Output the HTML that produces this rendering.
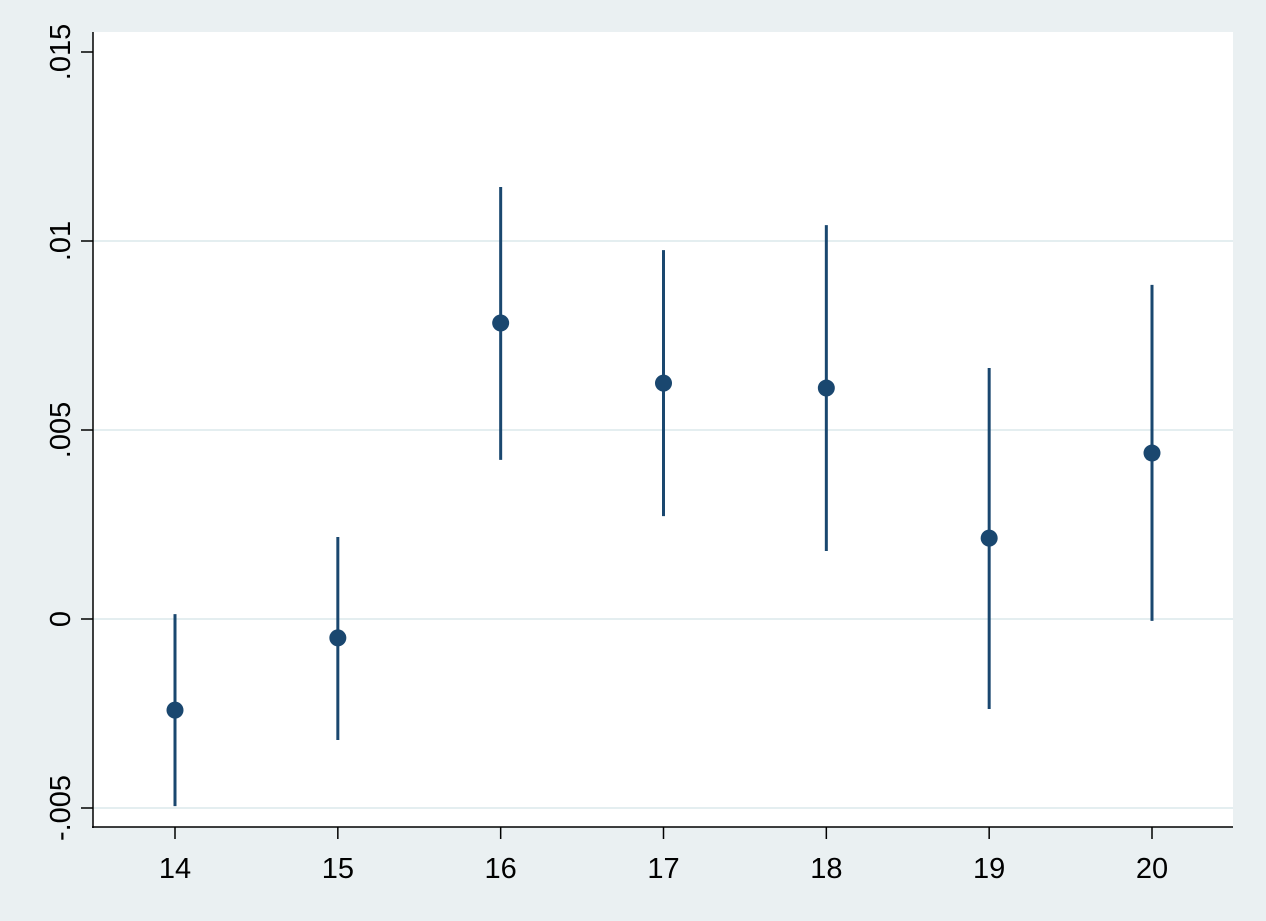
<!DOCTYPE html>
<html><head><meta charset="utf-8"><style>
html,body{margin:0;padding:0;background:#eaf0f2;}
svg{display:block;font-family:"Liberation Sans",Arial,sans-serif;}
</style></head><body>
<svg id="chart" width="1266" height="921" viewBox="0 0 1266 921">
<rect x="0" y="0" width="1266" height="921" fill="#eaf0f2"/>
<rect x="93" y="32" width="1140" height="795" fill="#ffffff"/>
<g id="grid"></g><g id="marks"></g><g id="axes"></g>
</svg>
<script>
const categories = [14, 15, 16, 17, 18, 19, 20];
const estimates = [-0.00241, -0.0005, 0.00783, 0.00624, 0.00611, 0.00214, 0.00439];
const ciLower = [-0.00495, -0.0032, 0.00421, 0.00272, 0.0018, -0.00238, -0.00005];
const ciUpper = [0.00013, 0.00217, 0.01143, 0.00976, 0.01042, 0.00664, 0.00884];
const yTicks = [-0.005, 0, 0.005, 0.01, 0.015];
const yTickLabels = ["-.005", "0", ".005", ".01", ".015"];

const NS = "http://www.w3.org/2000/svg";
function xScale(v){ return 175 + (v - 14) * (1152 - 175) / 6; }
function yScale(v){ return 619 - v * (189 / 0.005); }
function mk(tag, attrs, parent){
  const e = document.createElementNS(NS, tag);
  for (const k in attrs) e.setAttribute(k, attrs[k]);
  parent.appendChild(e); return e;
}
const grid = document.getElementById('grid');
const marks = document.getElementById('marks');
const axes = document.getElementById('axes');

yTicks.forEach((t, i) => {
  const y = yScale(t);
  if (t !== 0.015) {
    const g = mk('line', {x1: 93, x2: 1233, y1: y, y2: y, stroke: '#e4eef0', 'stroke-width': 2}, grid);
    
    
  }
  const tk = mk('line', {x1: 81, x2: 93, y1: y, y2: y, stroke: '#000', 'stroke-width': 1.5}, axes);
  
  
  const tx = mk('text', {x: 0, y: 0, 'font-size': 29, 'text-anchor': 'middle', fill: '#000',
    transform: 'translate(70,' + y + ') rotate(-90)'}, axes);
  tx.textContent = yTickLabels[i];
  
  
});

categories.forEach((c, i) => {
  const x = xScale(c);
  const tk = mk('line', {x1: x, x2: x, y1: 827, y2: 839, stroke: '#000', 'stroke-width': 1.5}, axes);
  
  
  const tx = mk('text', {x: x, y: 878, 'font-size': 29, 'text-anchor': 'middle', fill: '#000'}, axes);
  tx.textContent = String(c);
  
  

  const l = mk('line', {x1: x, x2: x, y1: yScale(ciLower[i]), y2: yScale(ciUpper[i]), stroke: '#1a476f', 'stroke-width': 3}, marks);
  
  
  const p = mk('circle', {cx: x, cy: yScale(estimates[i]), r: 8.5, fill: '#1a476f'}, marks);
  
  
});

const ya = mk('line', {x1: 93, x2: 93, y1: 32, y2: 828, stroke: '#000', 'stroke-width': 1.5}, axes);


const xa = mk('line', {x1: 92, x2: 1233, y1: 827, y2: 827, stroke: '#000', 'stroke-width': 1.5}, axes);


</script>
</body></html>
